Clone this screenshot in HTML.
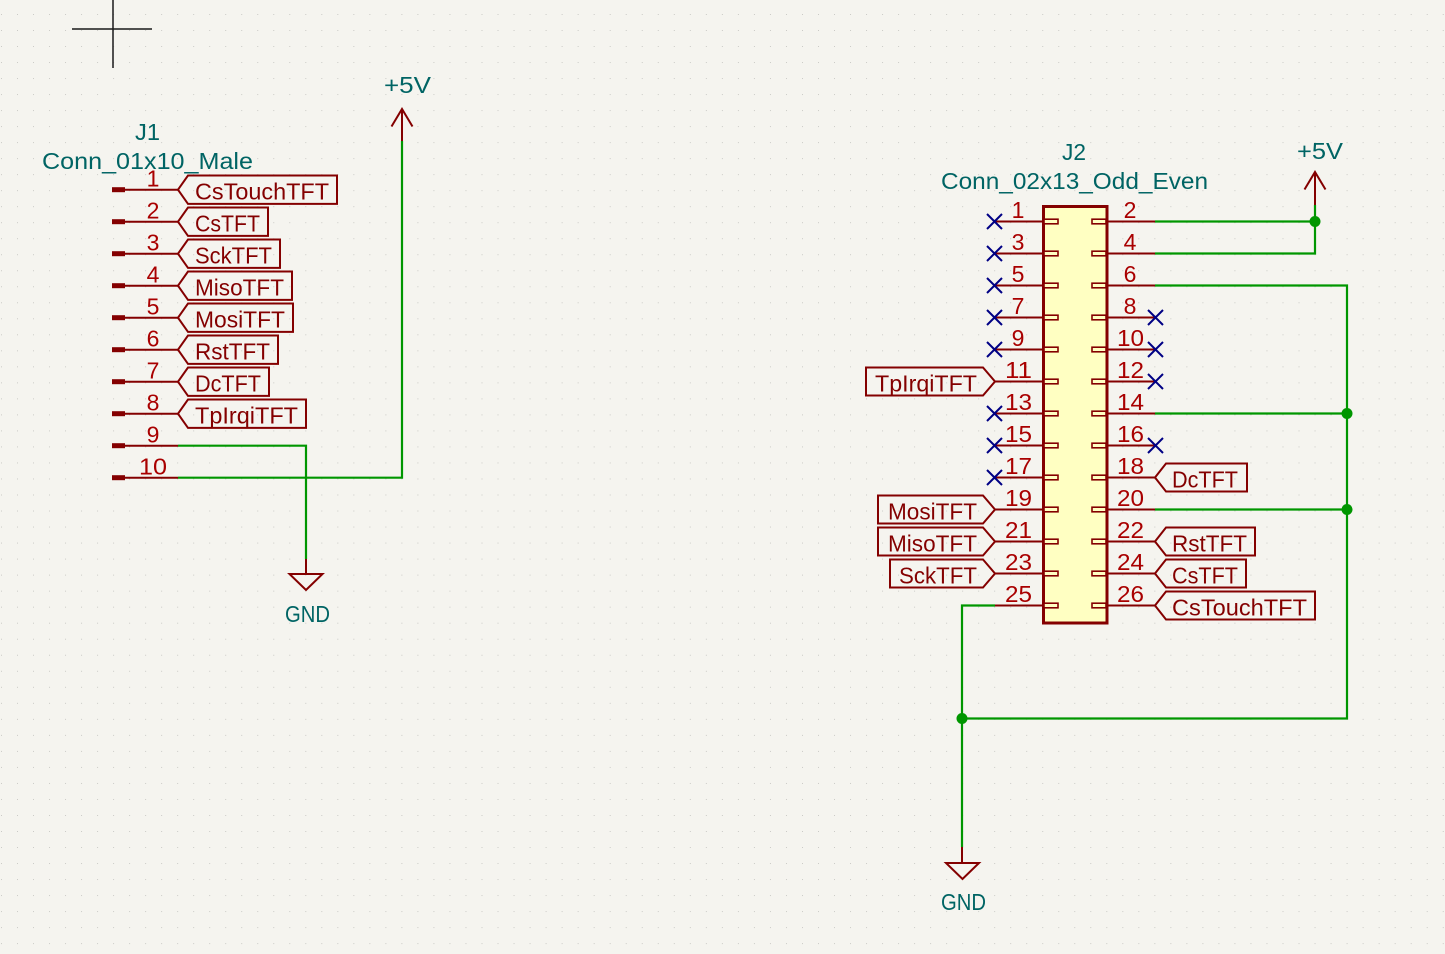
<!DOCTYPE html>
<html>
<head>
<meta charset="utf-8">
<style>
  html,body{margin:0;padding:0;background:#f5f4ef;}
  svg{display:block;}
  text{font-family:"Liberation Sans","DejaVu Sans",sans-serif;font-size:23px;}
  .ref{fill:#006464;}
  .pn{fill:#a90000;}
  .lbl{fill:#840000;}
</style>
</head>
<body>
<svg width="1445" height="954" viewBox="0 0 1445 954" xmlns="http://www.w3.org/2000/svg">
  <defs>
    <pattern id="grid" x="1" y="14" width="16.02" height="16.02" patternUnits="userSpaceOnUse">
      <rect x="-0.6" y="-0.6" width="1.4" height="1.4" fill="#b4b4b0"/>
    </pattern>
  </defs>
  <rect x="0" y="0" width="1445" height="954" fill="#f5f4ef"/>
  <rect x="0" y="0" width="1445" height="954" fill="url(#grid)"/>

  <!-- crosshair -->
  <line x1="72" y1="29" x2="152" y2="29" stroke="#1a1a1a" stroke-width="1.5"/>
  <line x1="113" y1="0" x2="113" y2="68" stroke="#1a1a1a" stroke-width="1.5"/>

  <!-- ================= J1 ================= -->
  <text class="ref" x="135" y="140" textLength="25" lengthAdjust="spacingAndGlyphs">J1</text>
  <text class="ref" x="42" y="169" textLength="211" lengthAdjust="spacingAndGlyphs">Conn_01x10_Male</text>

  <g stroke="#840000" stroke-width="2" fill="none">
    <line x1="112" y1="189.7" x2="178" y2="189.7"/>
    <line x1="112" y1="221.7" x2="178" y2="221.7"/>
    <line x1="112" y1="253.7" x2="178" y2="253.7"/>
    <line x1="112" y1="285.7" x2="178" y2="285.7"/>
    <line x1="112" y1="317.7" x2="178" y2="317.7"/>
    <line x1="112" y1="349.7" x2="178" y2="349.7"/>
    <line x1="112" y1="381.7" x2="178" y2="381.7"/>
    <line x1="112" y1="413.7" x2="178" y2="413.7"/>
    <line x1="112" y1="445.7" x2="178" y2="445.7"/>
    <line x1="112" y1="477.7" x2="178" y2="477.7"/>
  </g>
  <g fill="#840000">
    <rect x="112" y="187.2" width="13" height="5"/>
    <rect x="112" y="219.2" width="13" height="5"/>
    <rect x="112" y="251.2" width="13" height="5"/>
    <rect x="112" y="283.2" width="13" height="5"/>
    <rect x="112" y="315.2" width="13" height="5"/>
    <rect x="112" y="347.2" width="13" height="5"/>
    <rect x="112" y="379.2" width="13" height="5"/>
    <rect x="112" y="411.2" width="13" height="5"/>
    <rect x="112" y="443.2" width="13" height="5"/>
    <rect x="112" y="475.2" width="13" height="5"/>
  </g>
  <g class="pn" text-anchor="middle">
    <text x="153" y="186.5">1</text>
    <text x="153" y="218.5">2</text>
    <text x="153" y="250.5">3</text>
    <text x="153" y="282.5">4</text>
    <text x="153" y="314.5">5</text>
    <text x="153" y="346.5">6</text>
    <text x="153" y="378.5">7</text>
    <text x="153" y="410.5">8</text>
    <text x="153" y="442.5">9</text>
    <text x="153" y="474.5" textLength="28" lengthAdjust="spacingAndGlyphs">10</text>
  </g>

  <!-- J1 labels (input shape) -->
  <g stroke="#840000" stroke-width="2" fill="none">
    <path d="M178 189.7 L188 175.5 H337 V203.9 H188 Z"/>
    <path d="M178 221.7 L188 207.5 H268 V235.9 H188 Z"/>
    <path d="M178 253.7 L188 239.5 H280 V267.9 H188 Z"/>
    <path d="M178 285.7 L188 271.5 H292 V299.9 H188 Z"/>
    <path d="M178 317.7 L188 303.5 H293 V331.9 H188 Z"/>
    <path d="M178 349.7 L188 335.5 H278 V363.9 H188 Z"/>
    <path d="M178 381.7 L188 367.5 H269 V395.9 H188 Z"/>
    <path d="M178 413.7 L188 399.5 H306 V427.9 H188 Z"/>
  </g>
  <g class="lbl">
    <text x="195" y="199.5" textLength="134" lengthAdjust="spacingAndGlyphs">CsTouchTFT</text>
    <text x="195" y="231.5" textLength="65" lengthAdjust="spacingAndGlyphs">CsTFT</text>
    <text x="195" y="263.5" textLength="77" lengthAdjust="spacingAndGlyphs">SckTFT</text>
    <text x="195" y="295.5" textLength="89" lengthAdjust="spacingAndGlyphs">MisoTFT</text>
    <text x="195" y="327.5" textLength="90" lengthAdjust="spacingAndGlyphs">MosiTFT</text>
    <text x="195" y="359.5" textLength="75" lengthAdjust="spacingAndGlyphs">RstTFT</text>
    <text x="195" y="391.5" textLength="66" lengthAdjust="spacingAndGlyphs">DcTFT</text>
    <text x="195" y="423.5" textLength="103" lengthAdjust="spacingAndGlyphs">TpIrqiTFT</text>
  </g>

  <!-- J1 wires -->
  <g stroke="#009600" stroke-width="2.2" fill="none">
    <path d="M178 445.7 H306 V559"/>
    <path d="M178 477.7 H402 V141"/>
  </g>
  <!-- J1 +5V -->
  <g stroke="#840000" stroke-width="2" fill="none">
    <line x1="402" y1="109" x2="402" y2="141"/>
    <polyline points="391.5,126.5 402,109 412.5,126.5"/>
  </g>
  <text class="ref" x="384" y="93" textLength="47" lengthAdjust="spacingAndGlyphs">+5V</text>
  <!-- J1 GND -->
  <g stroke="#840000" stroke-width="2" fill="none">
    <line x1="306" y1="559" x2="306" y2="574"/>
    <polygon points="289.5,574 322.5,574 306,590"/>
  </g>
  <text class="ref" x="285" y="622" textLength="45" lengthAdjust="spacingAndGlyphs">GND</text>

  <!-- ================= J2 ================= -->
  <text class="ref" x="1062" y="160" textLength="24" lengthAdjust="spacingAndGlyphs">J2</text>
  <text class="ref" x="941" y="189" textLength="267" lengthAdjust="spacingAndGlyphs">Conn_02x13_Odd_Even</text>

  <!-- body -->
  <rect x="1043.5" y="206.5" width="63.5" height="416.5" fill="#ffffc2" stroke="#840000" stroke-width="3"/>

  <!-- pins -->
  <g stroke="#840000" stroke-width="2" fill="none">
    <line x1="995" y1="221.5" x2="1043" y2="221.5"/><line x1="1107" y1="221.5" x2="1155" y2="221.5"/>
    <line x1="995" y1="253.5" x2="1043" y2="253.5"/><line x1="1107" y1="253.5" x2="1155" y2="253.5"/>
    <line x1="995" y1="285.5" x2="1043" y2="285.5"/><line x1="1107" y1="285.5" x2="1155" y2="285.5"/>
    <line x1="995" y1="317.5" x2="1043" y2="317.5"/><line x1="1107" y1="317.5" x2="1155" y2="317.5"/>
    <line x1="995" y1="349.5" x2="1043" y2="349.5"/><line x1="1107" y1="349.5" x2="1155" y2="349.5"/>
    <line x1="995" y1="381.5" x2="1043" y2="381.5"/><line x1="1107" y1="381.5" x2="1155" y2="381.5"/>
    <line x1="995" y1="413.5" x2="1043" y2="413.5"/><line x1="1107" y1="413.5" x2="1155" y2="413.5"/>
    <line x1="995" y1="445.5" x2="1043" y2="445.5"/><line x1="1107" y1="445.5" x2="1155" y2="445.5"/>
    <line x1="995" y1="477.5" x2="1043" y2="477.5"/><line x1="1107" y1="477.5" x2="1155" y2="477.5"/>
    <line x1="995" y1="509.5" x2="1043" y2="509.5"/><line x1="1107" y1="509.5" x2="1155" y2="509.5"/>
    <line x1="995" y1="541.5" x2="1043" y2="541.5"/><line x1="1107" y1="541.5" x2="1155" y2="541.5"/>
    <line x1="995" y1="573.5" x2="1043" y2="573.5"/><line x1="1107" y1="573.5" x2="1155" y2="573.5"/>
    <line x1="995" y1="605.5" x2="1043" y2="605.5"/><line x1="1107" y1="605.5" x2="1155" y2="605.5"/>
  </g>
  <!-- stubs inside body -->
  <g stroke="#840000" stroke-width="1.6" fill="#ffffc2">
    <rect x="1044" y="219.2" width="14" height="4.6"/><rect x="1092" y="219.2" width="14" height="4.6"/>
    <rect x="1044" y="251.2" width="14" height="4.6"/><rect x="1092" y="251.2" width="14" height="4.6"/>
    <rect x="1044" y="283.2" width="14" height="4.6"/><rect x="1092" y="283.2" width="14" height="4.6"/>
    <rect x="1044" y="315.2" width="14" height="4.6"/><rect x="1092" y="315.2" width="14" height="4.6"/>
    <rect x="1044" y="347.2" width="14" height="4.6"/><rect x="1092" y="347.2" width="14" height="4.6"/>
    <rect x="1044" y="379.2" width="14" height="4.6"/><rect x="1092" y="379.2" width="14" height="4.6"/>
    <rect x="1044" y="411.2" width="14" height="4.6"/><rect x="1092" y="411.2" width="14" height="4.6"/>
    <rect x="1044" y="443.2" width="14" height="4.6"/><rect x="1092" y="443.2" width="14" height="4.6"/>
    <rect x="1044" y="475.2" width="14" height="4.6"/><rect x="1092" y="475.2" width="14" height="4.6"/>
    <rect x="1044" y="507.2" width="14" height="4.6"/><rect x="1092" y="507.2" width="14" height="4.6"/>
    <rect x="1044" y="539.2" width="14" height="4.6"/><rect x="1092" y="539.2" width="14" height="4.6"/>
    <rect x="1044" y="571.2" width="14" height="4.6"/><rect x="1092" y="571.2" width="14" height="4.6"/>
    <rect x="1044" y="603.2" width="14" height="4.6"/><rect x="1092" y="603.2" width="14" height="4.6"/>
  </g>

  <!-- pin numbers -->
  <g class="pn" text-anchor="middle">
    <text x="1018" y="218">1</text><text x="1130" y="218">2</text>
    <text x="1018" y="250">3</text><text x="1130" y="250">4</text>
    <text x="1018" y="282">5</text><text x="1130" y="282">6</text>
    <text x="1018" y="314">7</text><text x="1130" y="314">8</text>
    <text x="1018" y="346">9</text><text x="1130.5" y="346" textLength="27" lengthAdjust="spacingAndGlyphs">10</text>
    <text x="1018.5" y="378" textLength="27" lengthAdjust="spacingAndGlyphs">11</text><text x="1130.5" y="378" textLength="27" lengthAdjust="spacingAndGlyphs">12</text>
    <text x="1018.5" y="410" textLength="27" lengthAdjust="spacingAndGlyphs">13</text><text x="1130.5" y="410" textLength="27" lengthAdjust="spacingAndGlyphs">14</text>
    <text x="1018.5" y="442" textLength="27" lengthAdjust="spacingAndGlyphs">15</text><text x="1130.5" y="442" textLength="27" lengthAdjust="spacingAndGlyphs">16</text>
    <text x="1018.5" y="474" textLength="27" lengthAdjust="spacingAndGlyphs">17</text><text x="1130.5" y="474" textLength="27" lengthAdjust="spacingAndGlyphs">18</text>
    <text x="1018.5" y="506" textLength="27" lengthAdjust="spacingAndGlyphs">19</text><text x="1130.5" y="506" textLength="27" lengthAdjust="spacingAndGlyphs">20</text>
    <text x="1018.5" y="538" textLength="27" lengthAdjust="spacingAndGlyphs">21</text><text x="1130.5" y="538" textLength="27" lengthAdjust="spacingAndGlyphs">22</text>
    <text x="1018.5" y="570" textLength="27" lengthAdjust="spacingAndGlyphs">23</text><text x="1130.5" y="570" textLength="27" lengthAdjust="spacingAndGlyphs">24</text>
    <text x="1018.5" y="602" textLength="27" lengthAdjust="spacingAndGlyphs">25</text><text x="1130.5" y="602" textLength="27" lengthAdjust="spacingAndGlyphs">26</text>
  </g>

  <!-- no-connect markers -->
  <g stroke="#000084" stroke-width="2" fill="none">
    <path d="M987 214 L1002 229 M1002 214 L987 229"/>
    <path d="M987 246 L1002 261 M1002 246 L987 261"/>
    <path d="M987 278 L1002 293 M1002 278 L987 293"/>
    <path d="M987 310 L1002 325 M1002 310 L987 325"/>
    <path d="M987 342 L1002 357 M1002 342 L987 357"/>
    <path d="M987 406 L1002 421 M1002 406 L987 421"/>
    <path d="M987 438 L1002 453 M1002 438 L987 453"/>
    <path d="M987 470 L1002 485 M1002 470 L987 485"/>
    <path d="M1148 310 L1163 325 M1163 310 L1148 325"/>
    <path d="M1148 342 L1163 357 M1163 342 L1148 357"/>
    <path d="M1148 374 L1163 389 M1163 374 L1148 389"/>
    <path d="M1148 438 L1163 453 M1163 438 L1148 453"/>
  </g>

  <!-- J2 left labels (output, pointing right) -->
  <g stroke="#840000" stroke-width="2" fill="none">
    <path d="M866 367.5 H983 L995 381.5 L983 395.5 H866 Z"/>
    <path d="M878 495.5 H983 L995 509.5 L983 523.5 H878 Z"/>
    <path d="M878 527.5 H983 L995 541.5 L983 555.5 H878 Z"/>
    <path d="M890 559.5 H983 L995 573.5 L983 587.5 H890 Z"/>
  </g>
  <g class="lbl">
    <text x="875" y="391.5" textLength="102" lengthAdjust="spacingAndGlyphs">TpIrqiTFT</text>
    <text x="888" y="519.5" textLength="89" lengthAdjust="spacingAndGlyphs">MosiTFT</text>
    <text x="888" y="551.5" textLength="89" lengthAdjust="spacingAndGlyphs">MisoTFT</text>
    <text x="899" y="583.5" textLength="78" lengthAdjust="spacingAndGlyphs">SckTFT</text>
  </g>

  <!-- J2 right labels (input, pointing left) -->
  <g stroke="#840000" stroke-width="2" fill="none">
    <path d="M1155 477.5 L1166 463.5 H1247 V491.5 H1166 Z"/>
    <path d="M1155 541.5 L1166 527.5 H1255 V555.5 H1166 Z"/>
    <path d="M1155 573.5 L1166 559.5 H1246 V587.5 H1166 Z"/>
    <path d="M1155 605.5 L1166 591.5 H1315 V619.5 H1166 Z"/>
  </g>
  <g class="lbl">
    <text x="1172" y="487.5" textLength="66" lengthAdjust="spacingAndGlyphs">DcTFT</text>
    <text x="1172" y="551.5" textLength="75" lengthAdjust="spacingAndGlyphs">RstTFT</text>
    <text x="1172" y="583.5" textLength="66" lengthAdjust="spacingAndGlyphs">CsTFT</text>
    <text x="1172" y="615.5" textLength="135" lengthAdjust="spacingAndGlyphs">CsTouchTFT</text>
  </g>

  <!-- J2 wires -->
  <g stroke="#009600" stroke-width="2.2" fill="none">
    <path d="M1155 221.5 H1315"/>
    <path d="M1155 253.5 H1315 V205"/>
    <path d="M1155 285.5 H1347 V718.5 H962"/>
    <path d="M1155 413.5 H1347"/>
    <path d="M1155 509.5 H1347"/>
    <path d="M995 605.5 H962 V847"/>
  </g>
  <g fill="#009600">
    <circle cx="1315" cy="221.5" r="5.5"/>
    <circle cx="1347" cy="413.5" r="5.5"/>
    <circle cx="1347" cy="509.5" r="5.5"/>
    <circle cx="962" cy="718.5" r="5.5"/>
  </g>

  <!-- J2 +5V -->
  <g stroke="#840000" stroke-width="2" fill="none">
    <line x1="1315" y1="172" x2="1315" y2="205"/>
    <polyline points="1304.5,189.5 1315,172 1325.5,189.5"/>
  </g>
  <text class="ref" x="1297" y="159" textLength="46" lengthAdjust="spacingAndGlyphs">+5V</text>

  <!-- J2 GND -->
  <g stroke="#840000" stroke-width="2" fill="none">
    <line x1="962" y1="847" x2="962" y2="863"/>
    <polygon points="946,863 979,863 962.5,879"/>
  </g>
  <text class="ref" x="941" y="910" textLength="45" lengthAdjust="spacingAndGlyphs">GND</text>
</svg>
</body>
</html>
